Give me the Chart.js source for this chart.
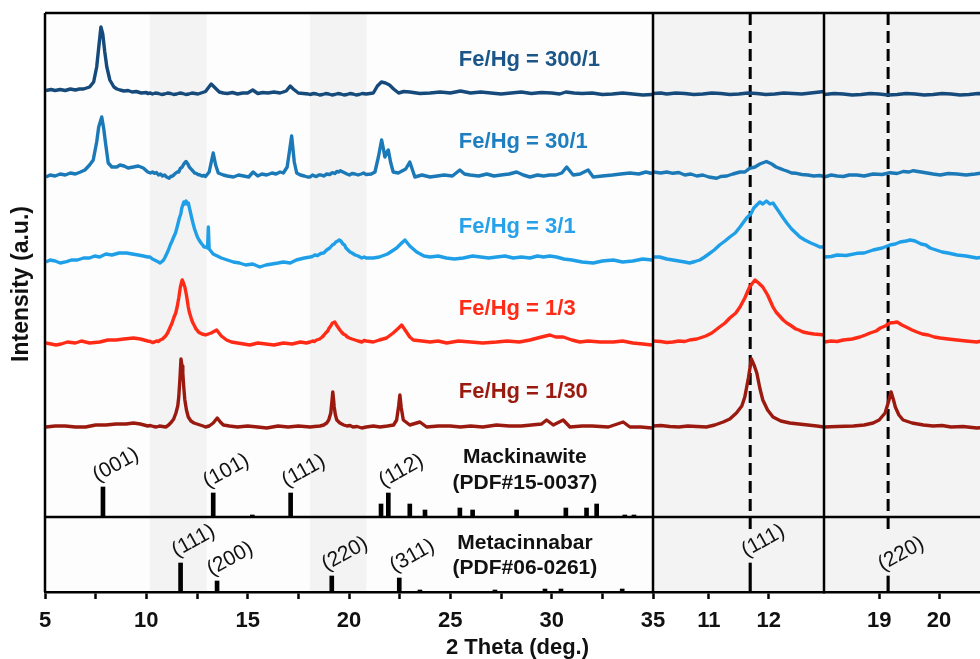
<!DOCTYPE html>
<html>
<head>
<meta charset="utf-8">
<title>XRD Fe/Hg</title>
<script src="https://cdn.jsdelivr.net/npm/chart.js@4.4.1/dist/chart.umd.min.js"></script>
<style>
  html, body { margin: 0; padding: 0; background: #fff; overflow: hidden; }
  #wrap { width: 1000px; height: 659px; }
</style>
</head>
<body>
<div id="wrap"><canvas id="xrd" width="1000" height="659"></canvas></div>
<script>
// [2theta (deg.), intensity above the trace's own baseline (a.u.)]
const fe300to1 = [[5.05,1.5],[5.3,2.5],[5.5,1.5],[5.75,2.5],[6.0,1.5],[6.25,3],[6.5,2],[6.7,3],[6.9,3],[7.2,5],[7.4,10],[7.55,25],[7.68,50],[7.76,65],[7.85,58],[7.95,40],[8.05,25],[8.2,12],[8.4,5],[8.55,3],[8.7,2],[8.9,1],[9.1,1.5],[9.3,0],[9.5,0.5],[9.75,-1],[10.0,-0.5],[10.07,-1.5],[10.2,-1],[10.3,-2],[10.45,-1],[10.6,-1.5],[10.75,-2.5],[10.9,-2],[11.05,-1],[11.2,-1.5],[11.35,-2.5],[11.5,-2],[11.65,-1],[11.8,-1.5],[11.95,-2.5],[12.1,-2],[12.25,-1],[12.4,-1.5],[12.55,-2],[12.7,-1],[12.85,0],[12.92,0.5],[13.05,4],[13.2,8],[13.35,5],[13.6,0],[13.8,-1],[14.0,-1.5],[14.25,-0.5],[14.5,-2],[14.75,-1],[15.0,-1],[15.25,2],[15.5,-1.5],[15.75,-0.5],[16.0,-1],[16.3,0],[16.6,-1],[16.9,1],[17.1,6],[17.25,3],[17.5,-1],[17.75,-1.5],[18.0,-2],[18.08,-2.5],[18.25,-1.5],[18.4,-2],[18.55,-3],[18.7,-2.5],[18.85,-1.5],[19.0,-2],[19.15,-3],[19.3,-2.5],[19.45,-1.5],[19.6,-2],[19.75,-3],[19.9,-2.5],[20.05,-1.5],[20.2,-2],[20.35,-3],[20.5,-2.5],[20.65,-1.5],[20.85,-2],[21.2,-1],[21.4,6],[21.6,10],[21.8,9],[22.0,7],[22.2,3],[22.45,-1],[22.7,0.5],[23.0,0],[23.5,-1.5],[24.0,-1],[24.5,0],[25.0,-1],[25.5,1],[26.0,-1],[26.5,0],[27.0,-1],[27.5,-2],[28.0,-1],[28.5,0],[29.0,-1.5],[29.5,-0.5],[30.0,-1],[30.4,-2],[30.7,0],[31.1,-1],[31.5,-1.5],[32.0,-1],[32.5,-2.5],[33.0,-2],[33.5,-1],[34.0,-2],[34.5,-3],[34.95,-2.5]];
const fe30to1 = [[5.05,0],[5.25,2],[5.5,1],[5.75,3],[6.0,2],[6.25,4],[6.5,3],[6.75,5],[6.97,7],[7.2,12],[7.38,17],[7.55,35],[7.65,50],[7.8,60],[7.9,48],[7.98,35],[8.12,14],[8.3,10],[8.54,10],[8.7,12],[8.9,11],[9.1,9],[9.36,10],[9.6,11],[9.85,9],[10.07,5],[10.2,4],[10.3,5],[10.4,3.7],[10.5,4.5],[10.6,2],[10.7,3],[10.8,1],[10.9,2],[11.0,0],[11.13,-1.3],[11.2,0.5],[11.3,1],[11.4,3],[11.52,5],[11.6,5],[11.68,8.7],[11.77,10],[11.85,13],[11.96,15.5],[12.05,13],[12.12,10],[12.18,8.7],[12.25,7],[12.3,6],[12.38,4],[12.46,3.7],[12.55,2.5],[12.65,2],[12.75,1],[12.85,1.5],[12.92,0.5],[13.1,5],[13.3,24],[13.42,12],[13.55,4],[13.8,2],[14.0,1],[14.3,0],[14.55,2],[14.8,1],[15.05,0],[15.27,5],[15.5,1],[15.7,3],[15.94,2],[16.2,4],[16.4,3],[16.6,5],[16.76,4],[16.95,10],[17.17,41],[17.3,15],[17.42,4],[17.6,2],[17.8,1],[17.95,0],[18.08,0],[18.2,2],[18.3,1],[18.4,0.5],[18.5,2],[18.63,2],[18.75,1],[18.9,3],[19.05,2.5],[19.18,4.3],[19.3,3.5],[19.4,5.5],[19.5,5],[19.57,6.3],[19.7,5],[19.8,4],[19.9,3],[20.02,2],[20.15,3.5],[20.3,3],[20.45,2],[20.6,3],[20.72,4],[20.85,2.5],[21.1,3],[21.28,5],[21.45,20],[21.61,37],[21.7,28],[21.77,20],[21.85,24],[21.94,27],[22.05,15],[22.18,5],[22.43,4],[22.8,8],[23.0,15],[23.15,6],[23.25,0],[23.6,2],[24.0,0],[24.35,1],[24.7,2],[25.1,1],[25.47,7],[25.7,3],[25.97,2],[26.4,1],[26.8,3],[27.15,1],[27.5,2],[27.9,3],[28.27,5],[28.6,2],[28.93,0],[29.3,2],[29.6,1],[29.9,2],[30.2,2],[30.5,4],[30.74,10],[31.06,2],[31.4,3],[31.8,7],[32.05,0],[32.5,1],[33.0,2],[33.4,3],[33.86,4],[34.3,3],[34.65,5],[34.95,3.5]];
const fe3to1 = [[5.05,0],[5.25,2],[5.5,1],[5.75,-1],[6.07,0.3],[6.3,2],[6.6,2],[6.9,4],[7.2,4],[7.45,6],[7.7,5],[8.0,8],[8.3,7],[8.65,9],[9.03,9],[9.3,8],[9.6,7],[9.85,6],[10.07,5],[10.18,5],[10.3,3],[10.4,2],[10.5,1],[10.6,0],[10.68,-1],[10.77,0.5],[10.85,2],[10.93,5],[11.0,8],[11.09,12],[11.18,17],[11.27,21],[11.35,25],[11.44,29],[11.52,35],[11.63,44],[11.7,48],[11.75,54],[11.8,57],[11.85,60],[11.9,58],[11.96,61],[12.02,58],[12.07,59],[12.15,52],[12.24,44],[12.3,39],[12.38,33],[12.45,29],[12.52,25],[12.6,22],[12.7,19],[12.78,17],[12.85,15],[12.92,15],[13.02,14],[13.06,35],[13.1,13],[13.3,8],[13.5,6],[13.7,4],[14.0,2],[14.29,0],[14.6,-1],[14.9,-3],[15.25,-2],[15.6,-5],[15.9,-3],[16.2,-2],[16.5,-1],[16.76,0],[17.1,-1],[17.4,2],[17.6,3],[17.8,4],[18.08,5],[18.2,5.5],[18.3,7],[18.45,6.5],[18.63,8.7],[18.75,9],[18.9,12],[19.05,14],[19.18,17],[19.27,18],[19.35,20],[19.45,21],[19.52,22],[19.6,21],[19.7,18],[19.78,17],[19.85,14],[19.95,12],[20.05,10],[20.15,9],[20.3,7],[20.45,6],[20.63,4],[20.75,5],[20.85,4],[21.2,4],[21.5,5],[21.9,8],[22.35,14],[22.6,19],[22.76,22],[23.0,16],[23.34,10],[23.7,6],[24.0,5],[24.4,6],[24.8,4],[25.2,3],[25.64,4],[26.1,6],[26.5,5],[26.9,4],[27.28,5],[27.7,6],[28.1,4],[28.5,5],[28.93,4],[29.3,6],[29.6,5],[29.9,6],[30.24,5],[30.6,3],[31.0,2],[31.5,0],[32.05,-1],[32.5,1],[33.04,2],[33.5,0],[34.0,1],[34.5,3],[34.95,2]];
const fe1to3 = [[5.05,2],[5.3,1],[5.55,0],[5.8,1],[6.1,3],[6.5,2],[6.8,4],[7.2,2],[7.7,3],[8.1,5],[8.5,5],[8.9,6],[9.36,7],[9.7,6],[10.07,4],[10.2,3.5],[10.3,2.5],[10.4,3],[10.5,4],[10.6,3.5],[10.68,5],[10.8,6],[10.95,9],[11.05,12],[11.18,18],[11.27,22],[11.35,27],[11.45,32],[11.52,38],[11.6,47],[11.68,58],[11.73,62],[11.77,65],[11.83,62],[11.9,58],[11.98,50],[12.07,38],[12.12,33],[12.18,29],[12.24,25],[12.3,22],[12.38,19],[12.45,16],[12.5,15],[12.57,13],[12.65,12],[12.75,11],[12.85,10.5],[12.92,10],[13.2,12],[13.47,15],[13.7,9],[13.96,5],[14.2,3],[14.5,2],[14.8,1],[15.11,0],[15.5,2],[15.9,1],[16.3,0],[16.76,2],[17.2,1],[17.6,3],[17.9,2],[18.08,3],[18.2,4],[18.3,3.5],[18.4,5],[18.55,6],[18.68,8],[18.77,10],[18.85,12],[18.95,14],[19.02,17],[19.1,19],[19.18,22],[19.25,22.5],[19.3,23],[19.38,20],[19.45,18],[19.55,15],[19.63,13],[19.72,11],[19.82,10],[19.92,8],[20.02,7],[20.15,6],[20.3,5],[20.45,4],[20.63,3],[20.75,4.5],[20.85,4],[21.2,3],[21.5,5],[21.85,7],[22.18,12],[22.45,17],[22.6,20],[22.8,14],[23.0,8],[23.17,5],[23.6,4],[24.0,3],[24.4,4],[24.82,2],[25.4,4],[26.0,3],[26.6,2],[27.28,3],[27.8,4],[28.4,3],[28.93,5],[29.5,8],[29.91,10],[30.2,8],[30.57,8],[31.0,5],[31.39,3],[31.8,4],[32.4,3],[33.04,3],[33.5,4],[34.0,2],[34.5,1],[34.95,0]];
const fe1to30 = [[5.05,1],[5.5,2],[6.0,2],[6.5,1],[7.0,1],[7.5,3],[8.0,3],[8.5,4],[9.0,4],[9.36,5],[9.7,4],[10.07,2],[10.2,2.5],[10.35,1.5],[10.5,1],[10.65,2],[10.8,1.5],[10.96,1],[11.1,3],[11.24,6],[11.35,9],[11.46,15],[11.55,22],[11.6,31],[11.66,50],[11.71,69],[11.76,62],[11.8,55],[11.85,40],[11.9,28],[11.98,18],[12.07,11],[12.2,7],[12.35,5],[12.5,4],[12.65,3],[12.8,2],[12.92,1],[13.1,2],[13.3,5],[13.5,10],[13.65,6],[13.8,3],[14.1,2],[14.5,1],[15.0,2],[15.5,1],[15.94,0],[16.5,2],[17.0,1],[17.5,2],[18.08,1],[18.3,1.5],[18.57,2],[18.75,3],[18.9,5],[19.0,8],[19.1,15],[19.16,27],[19.2,36],[19.24,28],[19.27,21],[19.33,13],[19.4,8],[19.55,5],[19.74,3],[19.9,2],[20.05,2.5],[20.2,1],[20.4,1.5],[20.63,0],[20.85,1],[21.2,2],[21.53,1],[21.9,2],[22.2,3],[22.35,8],[22.45,22],[22.51,33],[22.58,20],[22.68,8],[23.0,3],[23.5,6],[23.83,1],[24.4,2],[25.0,2],[25.5,1],[26.0,2],[26.6,1],[27.28,3],[27.9,2],[28.5,2],[29.0,3],[29.5,4],[29.75,8],[30.08,3],[30.57,8],[30.9,1],[31.5,2],[32.0,2],[32.8,1],[33.53,6],[33.86,1],[34.4,1],[34.95,0]];

// reference patterns: 2theta and relative stick height
const mackTheta = [7.86, 13.3, 15.23, 17.12, 21.58, 21.94, 23.0, 23.75, 25.47, 26.1, 28.27, 30.7, 31.72, 32.22, 33.61, 34.06];
const mackInt   = [30, 24, 2, 24, 13, 24, 13, 7, 9, 7, 7, 9, 9, 13, 2, 2];
const metaTheta = [11.69, 13.49, 19.15, 22.48, 23.5, 27.2, 29.67, 30.46, 33.48];
const metaInt   = [29, 11, 16, 14, 2, 2, 3, 3, 3];
const mackHkl = [["(001)", 7.86], ["(101)", 13.3], ["(111)", 17.12], ["(112)", 21.94]];
const metaHkl = [["(111)", 11.69], ["(200)", 13.49], ["(220)", 19.15], ["(311)", 22.48]];

const seriesNames = ["Fe/Hg = 300/1", "Fe/Hg = 30/1", "Fe/Hg = 3/1", "Fe/Hg = 1/3", "Fe/Hg = 1/30"];
const mainTicks = [5, 7.5, 10, 12.5, 15, 17.5, 20, 22.5, 25, 27.5, 30, 32.5, 35];
const zoomTicksA = [11, 12];
const zoomTicksB = [19, 20];
const shadeBands = [[10.17, 12.98], [18.07, 20.86]];

const FONT = '"Liberation Sans", Arial, Helvetica, sans-serif';
const lineColors = ["#164a7b", "#1c79b8", "#1f9fe8", "#ff2b16", "#9b1a10"];
const textColors = ["#1c5587", "#1f7ec0", "#27a2ea", "#ff2b16", "#9b1a10"];
const baseLevels = [500, 415, 330, 247, 164];   // offsets of stacked traces
const labelLevels = [532, 450, 365, 283, 200];
const MACK_BASE = 75, META_BASE = 0;

// three x panels side by side: full range + two zoomed windows
const panels = [
  { id: "x",  min: 5,     max: 35,    w: 608, ticks: mainTicks,  stick: 4 },
  { id: "x2", min: 10.07, max: 12.92, w: 171, ticks: zoomTicksA, stick: 2.5 },
  { id: "x3", min: 18.08, max: 20.85, w: 166, ticks: zoomTicksB, stick: 2.5 }
];

const datasets = [];
const seriesData = [fe300to1, fe30to1, fe3to1, fe1to3, fe1to30];
seriesData.forEach((pts, i) => {
  panels.forEach(p => {
    datasets.push({
      type: "line",
      xAxisID: p.id,
      data: pts.filter(d => d[0] >= p.min && d[0] <= p.max).map(d => ({ x: d[0], y: baseLevels[i] + d[1] })),
      borderColor: lineColors[i],
      borderWidth: 3.4,
      borderJoinStyle: "round",
      pointRadius: 0,
      tension: 0,
      fill: false
    });
  });
});

[[mackTheta, mackInt, MACK_BASE], [metaTheta, metaInt, META_BASE]].forEach(([th, v, base]) => {
  panels.forEach(p => {
    const data = th.map((t, i) => ({ x: t, y: [base, base + v[i]] })).filter(d => d.x >= p.min && d.x <= p.max);
    if (!data.length) return;
    datasets.push({
      type: "bar", xAxisID: p.id, data,
      backgroundColor: "#000", borderWidth: 0,
      grouped: false, barThickness: p.stick, maxBarThickness: p.stick
    });
  });
});

// dashed guides through metacinnabar (111) and (220) in the zoomed panels
[["x2", 11.69], ["x3", 19.15]].forEach(([id, t]) => {
  datasets.push({
    type: "line", xAxisID: id,
    data: [{ x: t, y: 579 }, { x: t, y: 63 }],
    borderColor: "#000", borderWidth: 3, borderDash: [12, 6],
    pointRadius: 0, fill: false
  });
});

function xScale(p, order) {
  return {
    type: "linear", position: "bottom", stack: "theta", stackWeight: p.w, weight: order,
    min: p.min, max: p.max, offset: false,
    afterBuildTicks: s => { s.ticks = p.ticks.map(v => ({ value: v })); },
    afterFit: s => { s.height = 67; s.paddingLeft = 0; s.paddingRight = 0; },
    grid: { display: true, drawOnChartArea: false, drawTicks: true, tickLength: 7, tickWidth: 2.5, tickColor: "#000", offset: false },
    border: { display: true, color: "#000", width: 2.5 },
    ticks: {
      autoSkip: false, maxRotation: 0, minRotation: 0, padding: 9, color: "#111",
      font: { family: FONT, size: 22, weight: "bold" },
      callback: v => (p.id !== "x" || v % 5 === 0) ? String(v) : ""
    }
  };
}

const decor = {
  id: "decor",
  beforeDraw(chart) {
    const { ctx, chartArea: a, scales } = chart;
    ctx.save();
    ctx.fillStyle = "#fff";
    ctx.fillRect(0, 0, chart.width, chart.height);
    const x = scales.x;
    ctx.fillStyle = "#fdfdfd";
    ctx.fillRect(x.left, a.top, x.right - x.left, a.bottom - a.top);
    ctx.fillStyle = "#f3f3f3";
    shadeBands.forEach(([b0, b1]) => {
      const p0 = x.getPixelForValue(b0), p1 = x.getPixelForValue(b1);
      ctx.fillRect(p0, a.top, p1 - p0, a.bottom - a.top);
    });
    ["x2", "x3"].forEach(id => {
      const s = scales[id];
      ctx.fillRect(s.left, a.top, s.right - s.left, a.bottom - a.top);
    });
    ctx.restore();
  },
  afterDatasetsDraw(chart) {
    const { ctx, chartArea: a, scales } = chart;
    const x = scales.x, y = scales.y;
    ctx.save();
    // frame
    ctx.strokeStyle = "#000";
    ctx.lineWidth = 2.5;
    ctx.beginPath();
    ctx.moveTo(a.left, a.top); ctx.lineTo(chart.width, a.top);
    ctx.moveTo(a.left, a.top); ctx.lineTo(a.left, a.bottom);
    ["x2", "x3"].forEach(id => {
      const l = scales[id].left;
      ctx.moveTo(l, a.top); ctx.lineTo(l, a.bottom);
    });
    const sep = y.getPixelForValue(MACK_BASE);
    ctx.moveTo(a.left, sep); ctx.lineTo(chart.width, sep);
    ctx.stroke();

    // trace names
    ctx.textBaseline = "middle";
    ctx.textAlign = "left";
    ctx.font = "bold 22px " + FONT;
    seriesNames.forEach((n, i) => {
      ctx.fillStyle = textColors[i];
      ctx.fillText(n, x.getPixelForValue(25.42), y.getPixelForValue(labelLevels[i]));
    });

    // reference names
    ctx.fillStyle = "#111";
    ctx.textAlign = "center";
    ctx.font = "bold 21px " + FONT;
    const cx = x.getPixelForValue(28.68);
    ctx.fillText("Mackinawite", cx, y.getPixelForValue(135));
    ctx.fillText("(PDF#15-0037)", cx, y.getPixelForValue(109));
    ctx.fillText("Metacinnabar", cx, y.getPixelForValue(49));
    ctx.fillText("(PDF#06-0261)", cx, y.getPixelForValue(24));

    // hkl labels, tilted
    ctx.font = "21px " + FONT;
    const tag = (scale, txt, t, top) => {
      ctx.save();
      ctx.translate(scale.getPixelForValue(t) + 13, y.getPixelForValue(top) - 22);
      ctx.rotate(-29 * Math.PI / 180);
      ctx.fillText(txt, 0, 0);
      ctx.restore();
    };
    mackHkl.forEach(([txt, t]) => tag(x, txt, t, MACK_BASE + mackInt[mackTheta.indexOf(t)]));
    metaHkl.forEach(([txt, t]) => tag(x, txt, t, META_BASE + metaInt[metaTheta.indexOf(t)]));
    tag(scales.x2, metaHkl[0][0], metaHkl[0][1], META_BASE + metaInt[0]);
    tag(scales.x3, metaHkl[2][0], metaHkl[2][1], META_BASE + metaInt[2]);

    // axis titles
    ctx.font = "bold 22px " + FONT;
    ctx.fillText("2 Theta (deg.)", (a.left + a.right) / 2, 648);
    ctx.save();
    ctx.translate(22, 284);
    ctx.rotate(-Math.PI / 2);
    ctx.font = "bold 23px " + FONT;
    ctx.fillText("Intensity (a.u.)", 0, 0);
    ctx.restore();
    ctx.restore();
  }
};

const scales = { y: { type: "linear", min: 0, max: 579, display: false } };
panels.forEach((p, k) => { scales[p.id] = xScale(p, k); });

new Chart(document.getElementById("xrd").getContext("2d"), {
  type: "line",
  data: { datasets },
  options: {
    responsive: false,
    animation: false,
    devicePixelRatio: 1,
    events: [],
    layout: { padding: { left: 45, top: 13, right: 10, bottom: 0 } },
    plugins: { legend: { display: false }, tooltip: { enabled: false } },
    scales
  },
  plugins: [decor]
});
</script>
</body>
</html>
